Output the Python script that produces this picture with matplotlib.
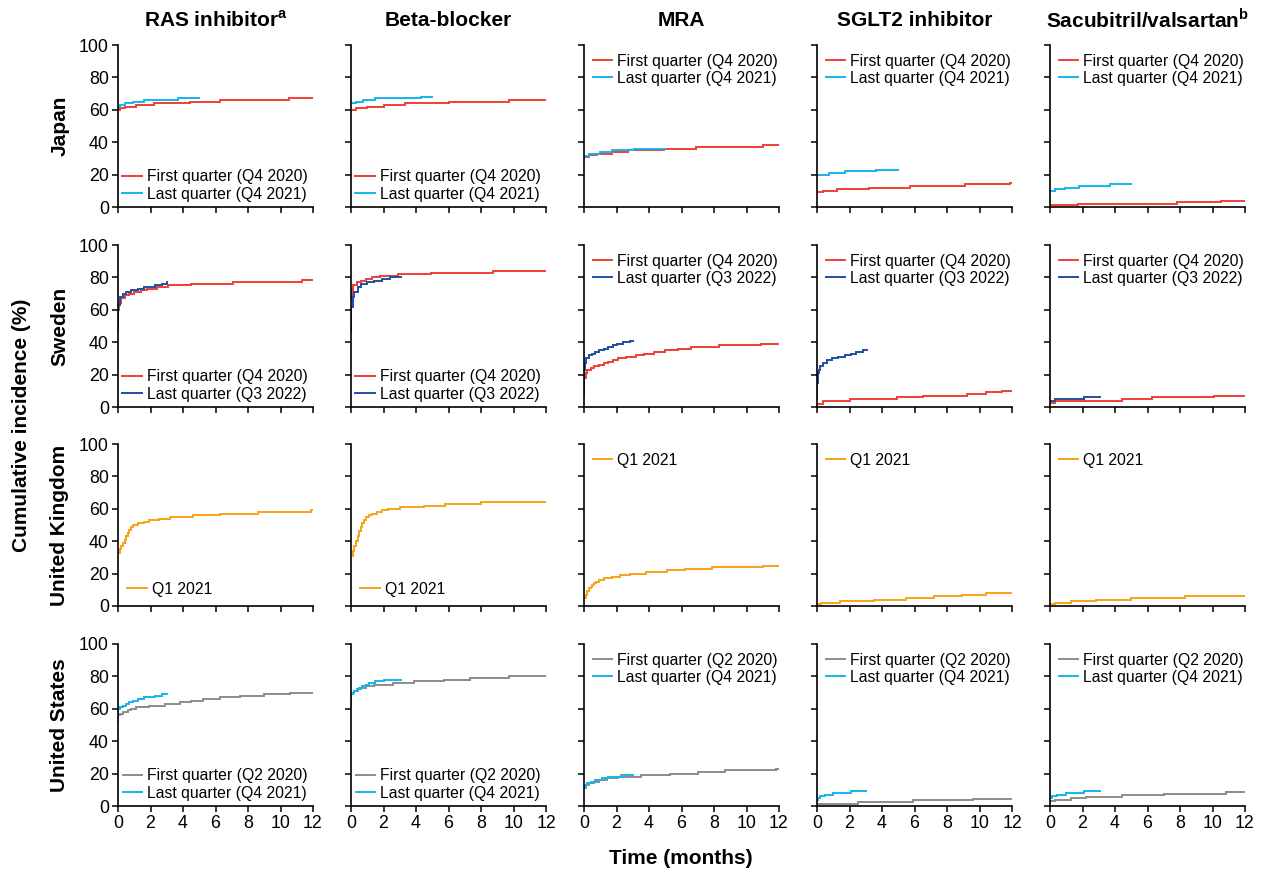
import matplotlib
matplotlib.use('Agg')
import matplotlib.pyplot as plt

plt.rcParams['font.family'] = ['Liberation Sans', 'DejaVu Sans']
plt.rcParams['mathtext.fontset'] = 'custom'
plt.rcParams['mathtext.rm'] = 'Liberation Sans'
plt.rcParams['mathtext.bf'] = 'Liberation Sans:bold'

# ---------------- labels ----------------
drugs = ['RAS inhibitor$^{\\mathbf{a}}$', 'Beta-blocker', 'MRA', 'SGLT2 inhibitor',
         'Sacubitril/valsartan$^{\\mathbf{b}}$']
countries = ['Japan', 'Sweden', 'United Kingdom', 'United States']
xticks = [0, 2, 4, 6, 8, 10, 12]
yticks = [0, 20, 40, 60, 80, 100]

labels_jp = ['First quarter (Q4 2020)', 'Last quarter (Q4 2021)']
labels_se = ['First quarter (Q4 2020)', 'Last quarter (Q3 2022)']
labels_uk = ['Q1 2021']
labels_us = ['First quarter (Q2 2020)', 'Last quarter (Q4 2021)']

# ---------------- data (time in months, cumulative incidence %) ----------------
# Japan
JP_RAS_FIRST = ([0, 0.1, 0.4, 1.1, 2.2, 4.4, 6.3, 10.5, 12], [60, 61, 62, 63, 64, 65, 66, 67, 67])
JP_RAS_LAST = ([0, 0.15, 0.4, 0.9, 1.6, 3.7, 5.0], [62, 63, 64, 65, 66, 67, 67])
JP_BB_FIRST = ([0, 0.3, 1.0, 2.0, 3.3, 6.0, 9.7, 12], [60, 61, 62, 63, 64, 65, 66, 66])
JP_BB_LAST = ([0, 0.3, 0.75, 1.5, 4.3, 5.0], [64, 65, 66, 67, 68, 68])
JP_MRA_FIRST = ([0, 0.3, 0.8, 1.7, 2.7, 4.9, 6.9, 11.0, 12], [31, 32, 33, 34, 35, 36, 37, 38, 38])
JP_MRA_LAST = ([0, 0.3, 1.0, 1.7, 3.1, 5.0], [31.5, 33, 34, 35, 36, 36])
JP_SGLT2_FIRST = ([0, 0.35, 1.2, 3.2, 5.7, 9.1, 11.9, 12], [9, 10, 11, 12, 13, 14, 15, 15])
JP_SGLT2_LAST = ([0, 0.76, 1.7, 3.6, 5.0], [20, 21, 22, 23, 23])
JP_SV_FIRST = ([0, 1.7, 7.8, 10.5, 12], [1, 2, 3, 4, 4])
JP_SV_LAST = ([0, 0.3, 0.9, 1.8, 3.7, 5.0], [10, 11, 12, 13, 14, 14])

# Sweden
SE_RAS_FIRST = ([0, 0.02, 0.05, 0.2, 0.4, 0.7, 1.0, 1.4, 1.8, 2.4, 3.1, 4.5, 7.1, 11.3, 12],
                [47, 60, 64, 67, 69, 70, 71, 72, 73, 74, 75, 76, 77, 78.5, 78.5])
SE_RAS_LAST = ([0, 0.02, 0.1, 0.3, 0.5, 0.8, 1.2, 1.6, 2.3, 2.7, 3.0],
               [47, 63, 68, 70, 71, 72, 73, 74, 75, 76, 77])
SE_BB_FIRST = ([0, 0.05, 0.15, 0.35, 0.6, 0.9, 1.3, 1.8, 2.9, 4.9, 8.75, 12],
               [66, 72, 75, 77, 78, 79, 80, 81, 82, 83, 84, 84])
SE_BB_LAST = ([0, 0.02, 0.1, 0.2, 0.4, 0.6, 1.0, 1.4, 1.9, 2.4, 3.1],
              [47, 62, 68, 71, 74, 76, 77, 78, 79, 80, 80])
SE_MRA_FIRST = ([0, 0.03, 0.1, 0.2, 0.4, 0.6, 0.9, 1.2, 1.5, 1.8, 2.1, 2.6, 3.2, 3.7, 4.3, 5.0, 5.8,
                 6.6, 8.3, 10.9, 12],
                [7, 18, 21, 23, 24, 25, 26, 27, 28, 29, 30, 31, 32, 33, 34, 35, 36, 37, 38, 39, 39])
SE_MRA_LAST = ([0, 0.02, 0.05, 0.15, 0.3, 0.5, 0.7, 0.9, 1.2, 1.5, 1.8, 2.0, 2.4, 2.8, 3.0],
               [10, 23, 27, 30, 32, 33, 34, 35, 36, 37, 38, 39, 40, 41, 41])
SE_SGLT2_FIRST = ([0, 0.35, 2.0, 4.9, 6.5, 9.2, 10.4, 11.4, 12], [2, 4, 5, 6, 7, 8, 9, 10, 10])
SE_SGLT2_LAST = ([0, 0.02, 0.05, 0.1, 0.2, 0.35, 0.6, 0.9, 1.3, 1.7, 2.1, 2.4, 2.8, 3.1],
                 [5, 15, 21, 23, 25, 27, 29, 30, 31, 32, 33, 34, 35, 35])
SE_SV_FIRST = ([0, 0.3, 2.4, 4.4, 6.3, 10.1, 12], [2.5, 3.5, 4, 5, 6, 7, 7])
SE_SV_LAST = ([0, 0.3, 2.1, 3.05], [4, 5, 6, 6])

# United Kingdom
UK_RAS = ([0, 0.1, 0.2, 0.3, 0.4, 0.5, 0.6, 0.7, 0.8, 0.9, 1.2, 1.6, 1.9, 2.5, 3.2, 4.6, 6.3, 8.6,
           11.9, 12],
          [33, 35, 37, 39, 41, 43, 45, 47, 49, 50, 51, 52, 53, 54, 55, 56, 57, 58, 59, 59])
UK_BB = ([0, 0.1, 0.2, 0.3, 0.4, 0.5, 0.6, 0.7, 0.8, 0.9, 1.1, 1.3, 1.6, 1.9, 2.3, 3.0, 4.5, 5.8, 8.0,
          12],
         [31, 34, 37, 40, 43, 46, 49, 51, 53, 55, 56, 57, 58, 59, 60, 61, 62, 63, 64, 64])
UK_MRA = ([0, 0.1, 0.2, 0.3, 0.4, 0.5, 0.6, 0.75, 0.9, 1.2, 1.7, 2.2, 2.8, 3.8, 5.1, 6.2, 7.9, 11.0, 12],
          [5, 7, 9, 11, 12, 13, 14, 15, 16, 17, 18, 19, 20, 21, 22, 23, 24, 25, 25])
UK_SGLT2 = ([0, 0.27, 1.4, 3.5, 5.5, 7.2, 8.9, 10.4, 12], [1, 2, 3, 4, 5, 6, 7, 8, 8])
UK_SV = ([0, 0.33, 1.3, 2.8, 5.0, 8.3, 12], [1, 2, 3, 4, 5, 6, 6])

# United States
US_RAS_FIRST = ([0, 0.02, 0.1, 0.3, 0.6, 0.8, 1.1, 1.9, 2.9, 3.8, 4.5, 5.2, 6.3, 7.5, 9.0, 10.6, 12],
                [51, 56, 57, 58, 59, 60, 61, 62, 63, 64, 65, 66, 67, 68, 69, 70, 70])
US_RAS_LAST = ([0, 0.02, 0.1, 0.3, 0.5, 0.7, 0.9, 1.2, 1.6, 2.3, 2.7, 3.0],
               [55, 60, 61, 62, 63, 64, 65, 66, 67, 68, 69, 69])
US_BB_FIRST = ([0, 0.02, 0.1, 0.2, 0.4, 0.6, 0.9, 1.4, 2.6, 3.9, 5.7, 7.3, 9.7, 12],
               [62, 69, 70, 71, 72, 73, 74, 75, 76, 77, 78, 79, 80, 80])
US_BB_LAST = ([0, 0.02, 0.1, 0.2, 0.35, 0.5, 0.7, 0.9, 1.1, 1.5, 2.0, 3.1],
              [62, 69, 70, 71, 72, 73, 74, 75, 76, 77, 78, 78])
US_MRA_FIRST = ([0, 0.1, 0.3, 0.6, 0.9, 1.4, 2.1, 3.5, 5.3, 7.0, 8.7, 11.8, 12],
                [11, 13, 14, 15, 16, 17, 18, 19, 20, 21, 22, 23, 23])
US_MRA_LAST = ([0, 0.05, 0.2, 0.4, 0.7, 1.1, 1.5, 2.3, 3.0], [11, 13, 14, 15, 16, 17, 18, 19, 19])
US_SGLT2_FIRST = ([0, 2.5, 5.9, 9.6, 12], [1.5, 2.5, 3.5, 4.5, 4.5])
US_SGLT2_LAST = ([0, 0.05, 0.2, 0.5, 1.0, 2.1, 3.0], [4, 5, 6, 7, 8, 9, 9])
US_SV_FIRST = ([0, 0.3, 1.3, 2.2, 4.4, 7.0, 10.8, 12], [3, 4, 5, 5.5, 6.5, 7.5, 8.5, 8.5])
US_SV_LAST = ([0, 0.1, 0.4, 1.0, 2.1, 3.05], [5, 6, 7, 8, 9, 9])

# ---------------- styles ----------------
RED = '#EE4035'
LBLUE = '#14B4EE'
DBLUE = '#1F4FA3'
ORANGE = '#F9A21B'
GRAY = '#8C8C8C'

rows = [
    ([[JP_RAS_FIRST, JP_RAS_LAST], [JP_BB_FIRST, JP_BB_LAST], [JP_MRA_FIRST, JP_MRA_LAST],
      [JP_SGLT2_FIRST, JP_SGLT2_LAST], [JP_SV_FIRST, JP_SV_LAST]], [RED, LBLUE], labels_jp),
    ([[SE_RAS_FIRST, SE_RAS_LAST], [SE_BB_FIRST, SE_BB_LAST], [SE_MRA_FIRST, SE_MRA_LAST],
      [SE_SGLT2_FIRST, SE_SGLT2_LAST], [SE_SV_FIRST, SE_SV_LAST]], [RED, DBLUE], labels_se),
    ([[UK_RAS], [UK_BB], [UK_MRA], [UK_SGLT2], [UK_SV]], [ORANGE], labels_uk),
    ([[US_RAS_FIRST, US_RAS_LAST], [US_BB_FIRST, US_BB_LAST], [US_MRA_FIRST, US_MRA_LAST],
      [US_SGLT2_FIRST, US_SGLT2_LAST], [US_SV_FIRST, US_SV_LAST]], [GRAY, LBLUE], labels_us),
]

W, H = 1265, 872
fig = plt.figure(figsize=(W / 100, H / 100), dpi=100)

col_left = [118, 351, 584, 817, 1050]
row_top = [45, 245, 444, 644]
ax_w, ax_h = 195, 162
LEG_FS = 11.3

for r, (panels, colors, labels) in enumerate(rows):
    for c in range(5):
        l = col_left[c]
        t = row_top[r]
        ax = fig.add_axes([l / W, 1 - (t + ax_h) / H, ax_w / W, ax_h / H])
        for (series, col, lab) in zip(panels[c], colors, labels):
            ax.plot(series[0], series[1], drawstyle='steps-post', color=col, lw=1.4,
                    label=lab, solid_joinstyle='miter')
        ax.set_xlim(0, 12)
        ax.set_ylim(0, 100)
        ax.set_xticks(xticks)
        ax.set_yticks(yticks)
        for s in ['top', 'right']:
            ax.spines[s].set_visible(False)
        for s in ['left', 'bottom']:
            ax.spines[s].set_linewidth(1.2)
            ax.spines[s].set_color('black')
        ax.tick_params(direction='out', length=4.5, width=1.1, labelsize=12.8, pad=2,
                       colors='black')
        if c != 0:
            ax.set_yticklabels([])
        if r != 3:
            ax.set_xticklabels([])
        if c < 2:
            if r == 2:
                ax.legend(loc='lower left', frameon=False, fontsize=LEG_FS, handlelength=1.25,
                          handletextpad=0.3, labelspacing=0.15, borderaxespad=0.3, borderpad=0.3)
            else:
                ax.legend(loc='lower right', frameon=False, fontsize=LEG_FS, handlelength=1.25,
                          handletextpad=0.3, labelspacing=0.15, borderaxespad=0.0, borderpad=0.35)
        else:
            ax.legend(loc='upper left', frameon=False, fontsize=LEG_FS, handlelength=1.25,
                      handletextpad=0.3, labelspacing=0.15, borderaxespad=0.3, borderpad=0.25)

# column titles
for c in range(5):
    fig.text((col_left[c] + ax_w / 2) / W, 1 - 20 / H, drugs[c], ha='center', va='center',
             fontsize=15, fontweight='bold')

# row labels
for r in range(4):
    fig.text(60 / W, 1 - (row_top[r] + ax_h / 2) / H, countries[r], rotation=90, ha='center',
             va='center', fontsize=15, fontweight='bold')

fig.text(22 / W, 1 - 425 / H, 'Cumulative incidence (%)', rotation=90, ha='center', va='center',
         fontsize=15, fontweight='bold')
fig.text(681 / W, 1 - 858 / H, 'Time (months)', ha='center', va='center', fontsize=15,
         fontweight='bold')

fig.savefig('out.png', dpi=100, facecolor='white')
